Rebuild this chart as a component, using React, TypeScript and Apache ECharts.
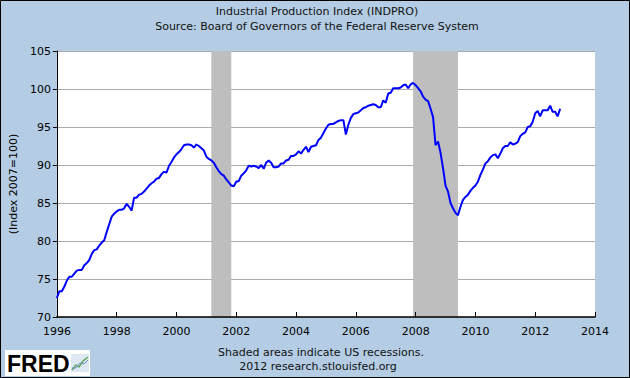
import React, { useEffect, useRef } from "react";
import * as echarts from "echarts";

const startYear = 1996;
const indpro1996 = [72.5, 73.4, 73.4, 74.0, 74.8, 75.3, 75.3, 75.7, 76.1, 76.2, 76.2, 76.8];
const indpro1997 = [77.1, 77.5, 78.3, 78.8, 78.9, 79.4, 79.8, 80.1, 81.2, 82.2, 83.2, 83.6];
const indpro1998 = [83.9, 84.1, 84.1, 84.3, 84.9, 84.5, 84.0, 85.7, 85.7, 86.1, 86.2, 86.5];
const indpro1999 = [86.9, 87.3, 87.6, 87.8, 88.2, 88.3, 88.8, 89.1, 89.0, 89.9, 90.4, 91.0];
const indpro2000 = [91.4, 91.7, 92.1, 92.6, 92.7, 92.7, 92.6, 92.3, 92.7, 92.5, 92.2, 91.9];
const indpro2001 = [91.1, 90.8, 90.6, 90.3, 89.7, 89.2, 88.8, 88.6, 88.1, 87.7, 87.3, 87.2];
const indpro2002 = [87.8, 87.9, 88.6, 88.9, 89.3, 89.9, 89.8, 89.9, 89.8, 89.6, 90.0, 89.5];
const indpro2003 = [90.3, 90.6, 90.3, 89.7, 89.7, 89.8, 90.2, 90.2, 90.6, 90.7, 91.2, 91.2];
const indpro2004 = [91.4, 91.8, 91.5, 92.0, 92.4, 91.7, 92.4, 92.5, 92.6, 93.3, 93.6, 94.2];
const indpro2005 = [94.8, 95.3, 95.4, 95.4, 95.6, 95.8, 95.9, 95.9, 94.0, 95.3, 96.2, 96.7];
const indpro2006 = [96.8, 96.9, 97.2, 97.5, 97.6, 97.8, 97.9, 98.0, 97.9, 97.6, 97.6, 98.5];
const indpro2007 = [98.2, 99.4, 99.5, 100.1, 100.1, 100.1, 100.2, 100.5, 100.6, 100.1, 100.6, 100.8];
const indpro2008 = [100.5, 100.1, 99.7, 99.0, 98.6, 98.4, 97.4, 96.3, 92.6, 93.1, 91.6, 89.6];
const indpro2009 = [87.3, 86.5, 85.0, 84.3, 83.7, 83.4, 84.5, 85.4, 85.8, 86.1, 86.6, 87.0];
const indpro2010 = [87.3, 87.8, 88.7, 89.4, 90.2, 90.5, 91.0, 91.3, 91.4, 90.9, 91.5, 92.2];
const indpro2011 = [92.5, 92.5, 93.0, 92.7, 92.8, 93.0, 93.8, 94.1, 94.3, 95.0, 95.1, 95.7];
const indpro2012 = [96.8, 97.1, 96.4, 97.2, 97.2, 97.2, 97.8, 97.0, 97.0, 96.4, 97.4];

// recessions as [start year, start month index, end year, end month index]
const recessions = [
  [2001, 2, 2001, 10],
  [2007, 11, 2009, 5],
];

const xTicks = { min: 1996, max: 2014, interval: 2 };
const yTicks = { min: 70, max: 105, interval: 5 };

const FONT = "DejaVu Sans";

export default function App() {
  const ref = useRef<HTMLDivElement>(null);
  useEffect(() => {
    if (!ref.current) return;
    const chart = echarts.init(ref.current, null, { renderer: "svg" });
    const all = [
      indpro1996, indpro1997, indpro1998, indpro1999, indpro2000, indpro2001,
      indpro2002, indpro2003, indpro2004, indpro2005, indpro2006, indpro2007,
      indpro2008, indpro2009, indpro2010, indpro2011, indpro2012,
    ].flat();
    const data = all.map((v, i) => [startYear + i / 12, v]);
    const areas = recessions.map((r) => [
      { xAxis: r[0] + r[1] / 12 },
      { xAxis: r[2] + r[3] / 12 },
    ]);
    chart.setOption({
      animation: false,
      backgroundColor: "#B4CDE4",
      textStyle: { fontFamily: FONT },
      grid: {
        left: 54,
        right: 35,
        top: 51,
        bottom: 61,
        show: true,
        backgroundColor: "#FFFFFF",
        borderWidth: 0,
      },
      xAxis: {
        type: "value",
        min: xTicks.min,
        max: xTicks.max,
        interval: xTicks.interval,
        z: 10,
        axisLine: { lineStyle: { color: "#000", width: 1.5 } },
        axisTick: { inside: true, length: 5, lineStyle: { color: "#000" } },
        axisLabel: {
          color: "#000",
          fontSize: 11,
          fontFamily: FONT,
          margin: 9,
          formatter: (v: number) => String(v),
        },
        splitLine: { show: false },
      },
      yAxis: {
        type: "value",
        min: yTicks.min,
        max: yTicks.max,
        interval: yTicks.interval,
        name: "(Index 2007=100)",
        nameLocation: "middle",
        nameRotate: 90,
        nameGap: 36,
        nameTextStyle: { color: "#000", fontSize: 11, fontFamily: FONT },
        axisLine: { show: true, lineStyle: { color: "#000", width: 1 } },
        axisTick: { show: true, inside: false, length: 4, lineStyle: { color: "#000" } },
        axisLabel: { color: "#000", fontSize: 11, fontFamily: FONT, margin: 6 },
        splitLine: { show: true, lineStyle: { color: "#AAAAAA", width: 1 } },
      },
      series: [
        {
          type: "line",
          data,
          symbol: "none",
          lineStyle: { color: "#0000FF", width: 2 },
          markArea: {
            silent: true,
            itemStyle: { color: "#BEBEBE", opacity: 1 },
            data: areas,
          },
        },
      ],
      graphic: [
        {
          type: "text",
          x: 317,
          y: 11,
          style: {
            text: "Industrial Production Index (INDPRO)",
            fill: "#111",
            font: `11px "${FONT}"`,
            align: "center",
            verticalAlign: "middle",
          },
        },
        {
          type: "text",
          x: 317,
          y: 26,
          style: {
            text: "Source: Board of Governors of the Federal Reserve System",
            fill: "#111",
            font: `11px "${FONT}"`,
            align: "center",
            verticalAlign: "middle",
          },
        },
        {
          type: "text",
          x: 321,
          y: 352,
          style: {
            text: "Shaded areas indicate US recessions.",
            fill: "#111",
            font: `11px "${FONT}"`,
            align: "center",
            verticalAlign: "middle",
          },
        },
        {
          type: "text",
          x: 318,
          y: 366,
          style: {
            text: "2012 research.stlouisfed.org",
            fill: "#111",
            font: `11px "${FONT}"`,
            align: "center",
            verticalAlign: "middle",
          },
        },
        {
          type: "group",
          x: 5,
          y: 350,
          children: [
            { type: "rect", shape: { x: 0, y: 0, width: 85, height: 26 }, style: { fill: "#FFFFFF" } },
            {
              type: "text",
              x: 2,
              y: 14,
              style: {
                text: "FRED",
                fill: "#000",
                font: `bold 23px "Liberation Sans"`,
                verticalAlign: "middle",
              },
            },
            { type: "rect", shape: { x: 66, y: 4, width: 18, height: 18 }, style: { fill: "#DDE8F2" } },
            {
              type: "polyline",
              shape: { points: [[67, 20], [71, 15], [74, 17], [78, 11], [83, 7]] },
              style: { stroke: "#5DA85A", lineWidth: 1.5, fill: "none" },
            },
            {
              type: "polyline",
              shape: { points: [[67, 18], [71, 18], [75, 13], [79, 14], [83, 10]] },
              style: { stroke: "#6A8FC8", lineWidth: 1, fill: "none" },
            },
          ],
        },
        {
          type: "rect",
          shape: { x: 0.5, y: 0.5, width: 629, height: 377 },
          style: { fill: "none", stroke: "#000", lineWidth: 1 },
          z: 100,
        },
      ],
    });
    return () => chart.dispose();
  }, []);
  return (
    <div
      ref={ref}
      style={{ position: "fixed", left: 0, top: 0, width: 630, height: 378 }}
    />
  );
}
